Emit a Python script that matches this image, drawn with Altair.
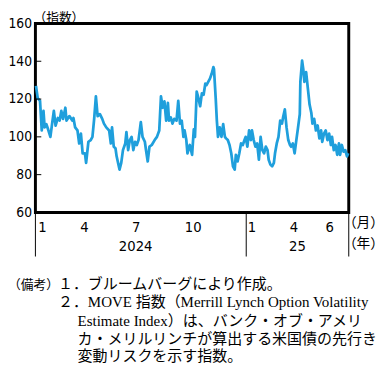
import altair as alt
import pandas as pd

dates = [
    "2024-01-02", "2024-01-05", "2024-01-09", "2024-01-12", "2024-01-15", "2024-01-17", "2024-01-20", "2024-01-23",
    "2024-01-27", "2024-01-30", "2024-02-02", "2024-02-05", "2024-02-09", "2024-02-12", "2024-02-15", "2024-02-18",
    "2024-02-22", "2024-02-24", "2024-02-29", "2024-03-05", "2024-03-07", "2024-03-10", "2024-03-14", "2024-03-17",
    "2024-03-20", "2024-03-23", "2024-03-27", "2024-03-29", "2024-04-02", "2024-04-06", "2024-04-09", "2024-04-12",
    "2024-04-15", "2024-04-18", "2024-04-22", "2024-04-26", "2024-04-29", "2024-05-03", "2024-05-08", "2024-05-11",
    "2024-05-13", "2024-05-16", "2024-05-19", "2024-05-21", "2024-05-26", "2024-05-29", "2024-06-01", "2024-06-05",
    "2024-06-07", "2024-06-10", "2024-06-13", "2024-06-16", "2024-06-19", "2024-06-22", "2024-06-25", "2024-06-28",
    "2024-07-02", "2024-07-05", "2024-07-09", "2024-07-11", "2024-07-14", "2024-07-17", "2024-07-21", "2024-07-26",
    "2024-07-30", "2024-08-03", "2024-08-06", "2024-08-09", "2024-08-12", "2024-08-15", "2024-08-18", "2024-08-20",
    "2024-08-23", "2024-08-26", "2024-08-29", "2024-09-02", "2024-09-05", "2024-09-08", "2024-09-11", "2024-09-14",
    "2024-09-16", "2024-09-19", "2024-09-21", "2024-09-25", "2024-09-29", "2024-10-02", "2024-10-04", "2024-10-07",
    "2024-10-10", "2024-10-13", "2024-10-16", "2024-10-19", "2024-10-22", "2024-10-24", "2024-10-27", "2024-10-30",
    "2024-11-02", "2024-11-05", "2024-11-06", "2024-11-09", "2024-11-11", "2024-11-13", "2024-11-16", "2024-11-19",
    "2024-11-22", "2024-11-25", "2024-11-27", "2024-11-30", "2024-12-03", "2024-12-06", "2024-12-09", "2024-12-12",
    "2024-12-14", "2024-12-17", "2024-12-20", "2024-12-23", "2024-12-26", "2024-12-29", "2024-12-31",
    "2025-01-03", "2025-01-06", "2025-01-09", "2025-01-11", "2025-01-14", "2025-01-17", "2025-01-20", "2025-01-23",
    "2025-01-26", "2025-01-29", "2025-02-01", "2025-02-04", "2025-02-07", "2025-02-09", "2025-02-12", "2025-02-15",
    "2025-02-18", "2025-02-20", "2025-02-23", "2025-02-26", "2025-03-01", "2025-03-04", "2025-03-06", "2025-03-09",
    "2025-03-12", "2025-03-15", "2025-03-18", "2025-03-20", "2025-03-23", "2025-03-26", "2025-03-29", "2025-04-01",
    "2025-04-04", "2025-04-05", "2025-04-08", "2025-04-10", "2025-04-12", "2025-04-15", "2025-04-18", "2025-04-21",
    "2025-04-24", "2025-04-26", "2025-04-29", "2025-05-02", "2025-05-05", "2025-05-08", "2025-05-11", "2025-05-13",
    "2025-05-16", "2025-05-19", "2025-05-22", "2025-05-25", "2025-05-28", "2025-05-30", "2025-06-02", "2025-06-05",
    "2025-06-08", "2025-06-11", "2025-06-13", "2025-06-16", "2025-06-19", "2025-06-22", "2025-06-25", "2025-06-27",
]
move_index = [
    127, 120.5, 119, 103.4, 113.7, 105, 106.7, 104,
    100, 107, 113.7, 106, 110, 108.6, 113.7, 109.5,
    115.4, 108.6, 111, 108.6, 110, 105, 103.4, 96.5,
    101.7, 91.3, 91.3, 86.2, 97.4, 98.3, 100, 109.5,
    121.4, 111, 112, 109.5, 107, 105, 103.4, 96.5,
    105, 94.8, 94, 89.7, 82.7, 86.2, 93, 96.5,
    102.5, 93, 98.3, 100, 93, 97.4, 95.7, 98.3,
    107.8, 100, 97.4, 93, 87, 94.8, 95.7, 98.3,
    100, 103.4, 121.4, 115.4, 118.8, 108.6, 118, 108.6,
    110.3, 107, 109.5, 108.6, 119, 107, 108.6, 100,
    103.4, 98.3, 91.3, 95.7, 90.5, 104, 100, 124,
    120.5, 116.2, 123, 122.3, 128.2, 127.4, 129.1, 130.8,
    133.4, 136.9, 136, 120.5, 108.6, 100, 105, 100,
    106.7, 100, 99.2, 98.3, 95.7, 91.3, 84.4, 82.7,
    90.5, 87, 91.3, 96.5, 95.7, 98.3, 100,
    94.8, 103.4, 98.3, 103.4, 98.3, 94.8, 96.5, 87.9,
    100, 93, 91.3, 94.8, 93, 87.9, 85.3, 84.4,
    86.2, 91.3, 96.5, 100, 108.6, 107, 110.3, 114.5,
    105, 98.3, 95.7, 94.8, 96.5, 91.3, 98.3, 105,
    112, 129.1, 140.3, 136, 129.1, 134.3, 125.7, 117.1,
    112.8, 107, 109.5, 103.4, 106, 99.2, 103.4, 97.4,
    101.7, 103.4, 98.3, 101.7, 95.7, 100, 93, 95.7,
    90.5, 96.5, 90.5, 95.7, 92.2, 93, 89.7, 91.3,
]

y_ticks = [60, 80, 100, 120, 140, 160]
inner_ticks = [80, 100, 120, 140]
month_labels = ["1", "4", "7", "10", "1", "4", "6"]
month_label_dates = ["2024-01-13", "2024-03-26", "2024-06-24", "2024-10-01", "2025-01-11", "2025-03-25", "2025-05-26"]
year_labels = ["2024", "25"]
year_label_dates = ["2024-06-23", "2025-03-31"]
separator_dates = ["2024-01-01", "2025-01-01", "2025-06-28"]

note_heads = ["（備考）"]
note_lines = [
    "１．ブルームバーグにより作成。",
    "２．MOVE 指数（Merrill Lynch Option Volatility",
    "Estimate Index）は、バンク・オブ・アメリ",
    "カ・メリルリンチが算出する米国債の先行き",
    "変動リスクを示す指数。",
]

NUM_FONT = "DejaVu Sans Condensed, Liberation Sans Narrow, Roboto, sans-serif"
JP_FONT = "Noto Sans CJK JP"
NOTE_FONT = "Liberation Serif, Noto Sans CJK JP"
BLUE = "#1f9fdc"

df = pd.DataFrame({"date": dates, "v": move_index})

xscale = alt.Scale(type="utc",
                   domain=[alt.DateTime(year=2024, month=1, date=1, utc=True),
                           alt.DateTime(year=2025, month=6, date=28, utc=True)])
yscale = alt.Scale(domain=[60, 160], nice=False, zero=False)
yaxis = alt.Axis(values=y_ticks, title=None, ticks=False, domain=False, grid=False,
                 labelFont=NUM_FONT, labelFontSize=14, labelColor="black",
                 labelPadding=4, labelOverlap=False, labelBound=False)

line = alt.Chart(df).mark_line(color=BLUE, strokeWidth=2.8, strokeJoin="round").encode(
    x=alt.X("date:T", scale=xscale, axis=None),
    y=alt.Y("v:Q", scale=yscale, axis=yaxis),
)

ticks = alt.Chart(pd.DataFrame({"v": inner_ticks})).mark_rule(color="black", strokeWidth=1).encode(
    y=alt.Y("v:Q", scale=yscale, axis=yaxis), x=alt.value(0), x2=alt.value(6))

seps = alt.Chart(pd.DataFrame({"d": separator_dates})).mark_rule(color="black", strokeWidth=1).encode(
    x=alt.X("d:T", scale=xscale, axis=None), y=alt.value(193), y2=alt.value(238))

months = alt.Chart(pd.DataFrame({"d": month_label_dates, "t": month_labels})).mark_text(
    font=NUM_FONT, fontSize=15, color="black", align="center", baseline="middle").encode(
    x=alt.X("d:T", scale=xscale, axis=None), y=alt.value(208), text="t:N")

years = alt.Chart(pd.DataFrame({"d": year_label_dates, "t": year_labels})).mark_text(
    font=NUM_FONT, fontSize=15, color="black", align="center", baseline="middle").encode(
    x=alt.X("d:T", scale=xscale, axis=None), y=alt.value(227), text="t:N")

unit_df = pd.DataFrame({"t": ["（指数）", "（月）", "（年）"],
                        "px": [-2, 314, 314], "py": [-5, 204, 225],
                        "fs": [13, 14, 14]})
units = alt.Chart(unit_df).mark_text(font=JP_FONT, color="black",
                                     align="left", baseline="middle").encode(
    x=alt.X("px:Q", scale=None), y=alt.Y("py:Q", scale=None), text="t:N",
    size=alt.Size("fs:Q", scale=None, legend=None))

heads_df = pd.DataFrame({"t": note_heads, "px": [-28], "py": [267]})
heads = alt.Chart(heads_df).mark_text(font=JP_FONT, fontSize=13, color="black",
                                      align="left", baseline="middle").encode(
    x=alt.X("px:Q", scale=None), y=alt.Y("py:Q", scale=None), text="t:N")

notes_df = pd.DataFrame({"t": note_lines, "px": [23, 23, 43, 43, 43], "py": [266, 285, 304, 322, 340]})
notes = alt.Chart(notes_df).mark_text(font=NOTE_FONT, fontSize=15.3, color="black",
                                      align="left", baseline="middle").encode(
    x=alt.X("px:Q", scale=None), y=alt.Y("py:Q", scale=None), text="t:N")

chart = alt.layer(line, ticks, seps, months, years, units, heads, notes).properties(
    width=320, height=193,
    background="white",
    autosize=alt.AutoSizeParams(type="none"),
    padding={"left": 28, "top": 12, "right": 36, "bottom": 152},
).configure_view(stroke="black", strokeWidth=3)

chart.save("out.html", embed_options={"renderer": "svg", "actions": False})
